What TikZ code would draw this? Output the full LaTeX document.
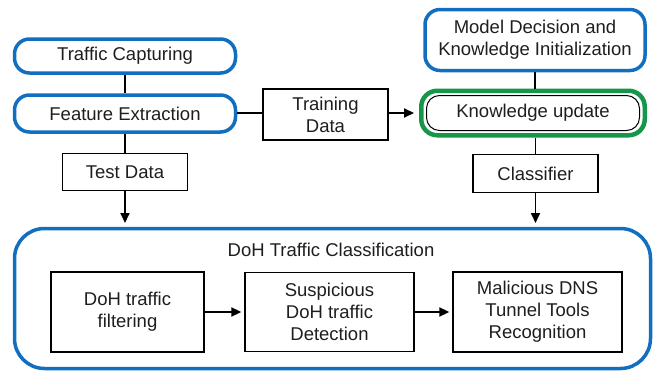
\documentclass[tikz,border=0pt]{standalone}
\usepackage{fontspec}
\setmainfont{Liberation Sans}
\usetikzlibrary{arrows.meta}
\definecolor{bblue}{RGB}{18,110,190}
\definecolor{ggreen}{RGB}{22,150,72}
\definecolor{txt}{RGB}{30,30,30}
\begin{document}
\begin{tikzpicture}[x=1pt,y=-1pt,
  every node/.style={text=txt,font=\fontsize{18.5}{22}\selectfont,align=center,inner sep=0pt},
  bluebox/.style={draw=bblue,line width=3.5pt,rounded corners=15pt},
  plainbox/.style={draw=black,line width=1.3pt},
  conn/.style={draw=black,line width=1.8pt},
  arr/.style={conn,-{Triangle[length=10pt,width=9pt]}}]
\useasboundingbox (0,0) rectangle (654,372);
% top-left column
\node[bluebox,minimum width=221pt,minimum height=34pt] (tc) at (125,56) {Traffic Capturing};
\node[bluebox,minimum width=221pt,minimum height=37pt] (fe) at (125,113.5) {Feature Extraction};
\node[plainbox,minimum width=125pt,minimum height=37pt] (td) at (125,172) {Test Data};
\node[plainbox,minimum width=125pt,minimum height=51pt] (trd) at (325.5,114.5) {Training\\Data};
% right column
\node[bluebox,minimum width=220pt,minimum height=61pt] (md) at (535,40) {Model Decision and\\Knowledge Initialization};
\node[draw=ggreen,line width=4.5pt,rounded corners=16pt,minimum width=223.5pt,minimum height=44.5pt] (ku) at (533,113) {};
\node[draw=black,line width=1pt,rounded corners=13pt,minimum width=213pt,minimum height=35pt] (kuin) at (533,113) {Knowledge update};
\node[plainbox,minimum width=125pt,minimum height=38pt] (cl) at (535.5,173.5) {Classifier};
% bottom
\node[bluebox,rounded corners=30pt,minimum width=636pt,minimum height=140pt] (big) at (332.5,298.5) {};
\node (title) at (331,250) {DoH Traffic Classification};
\node[plainbox,minimum width=153pt,minimum height=80pt] (f1) at (127.5,312) {DoH traffic\\filtering};
\node[plainbox,minimum width=169pt,minimum height=79pt] (f2) at (329.5,312) {Suspicious\\DoH traffic\\Detection};
\node[plainbox,minimum width=169pt,minimum height=80pt] (f3) at (537.5,312) {Malicious DNS\\Tunnel Tools\\Recognition};
\coordinate (a1) at (125,223);
\coordinate (a2) at (535.5,223);
\coordinate (kuw) at ([xshift=-5pt]ku.west);
% connectors
\draw[conn] (tc.south) -- (fe.north);
\draw[conn] (fe.south) -- (td.north);
\draw[arr] (td.south) -- (a1);
\draw[conn] ([yshift=0.5pt]fe.east) -- ([yshift=0.5pt]fe.east -| trd.west);
\draw[arr] ([yshift=0.5pt]trd.east |- fe.east) -- ([yshift=0.5pt]kuw |- fe.east);
\draw[conn] (md.south) -- (md.south |- ku.north);
\draw[conn] (cl.north |- ku.south) -- (cl.north);
\draw[arr] (cl.south) -- (a2);
\draw[arr] (f1.east) -- ([xshift=-3pt]f2.west);
\draw[arr] (f2.east) -- ([xshift=-3pt]f3.west);
\end{tikzpicture}
\end{document}
